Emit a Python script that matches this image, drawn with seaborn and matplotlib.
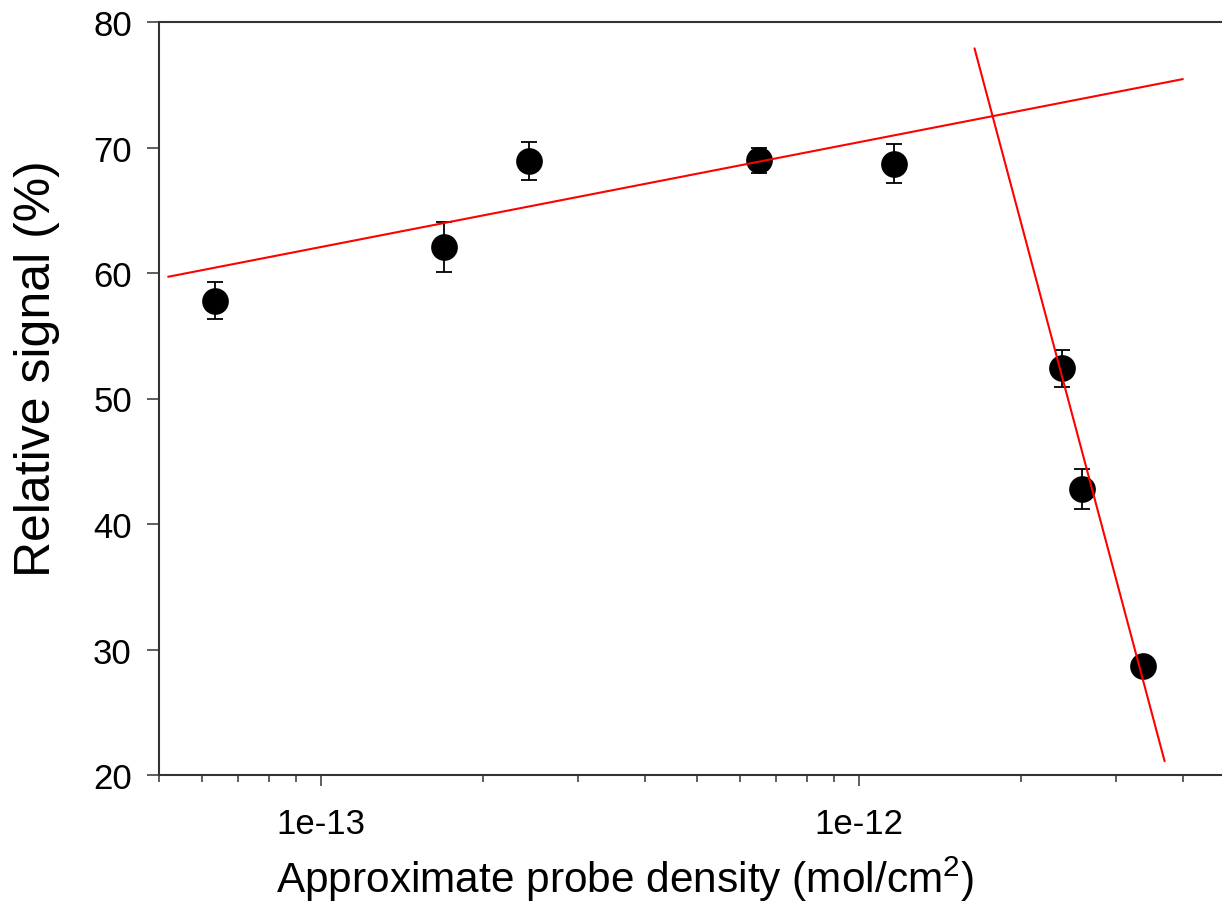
import matplotlib
matplotlib.use("Agg")
import matplotlib.pyplot as plt
import matplotlib.ticker as mticker
import seaborn as sns
import numpy as np
import pandas as pd

# data
density = [6.35e-14, 1.69e-13, 2.44e-13, 6.52e-13, 1.16e-12, 2.38e-12, 2.60e-12, 3.38e-12]
signal = [57.8, 62.1, 68.9, 69.0, 68.7, 52.4, 42.8, 28.7]
sig_err = [1.5, 2.0, 1.5, 1.0, 1.55, 1.5, 1.6, 0.3]

fit1_x = [5.2e-14, 4.0e-12]
fit1_y = [59.7, 75.45]
fit2_x = [1.64e-12, 3.70e-12]
fit2_y = [77.9, 21.1]

xticks_major = [1e-13, 1e-12]
xtick_labels = ["1e-13", "1e-12"]
yticks = [20, 30, 40, 50, 60, 70, 80]

sns.set_style("ticks")
plt.rcParams['font.family'] = ['Liberation Sans', 'DejaVu Sans']
plt.rcParams['mathtext.fontset'] = 'custom'
plt.rcParams['mathtext.rm'] = 'Liberation Sans'
plt.rcParams['mathtext.it'] = 'Liberation Sans:italic'
plt.rcParams['mathtext.bf'] = 'Liberation Sans:bold'

fig = plt.figure(figsize=(12.22, 9.03), dpi=100)
ax = fig.add_axes([159/1222, 1 - 776/903, 1 - 159/1222, (776 - 23)/903])

df = pd.DataFrame({"density": density, "signal": signal, "err": sig_err})

ax.errorbar(df["density"], df["signal"], yerr=df["err"], fmt="none",
            ecolor="black", elinewidth=1.3, capsize=5.5, capthick=1.3, zorder=2)
sns.scatterplot(data=df, x="density", y="signal", ax=ax, color="black",
                s=370, marker="o", edgecolor="black", linewidth=0, zorder=3)

sns.lineplot(x=fit1_x, y=fit1_y, ax=ax, color="red", linewidth=1.5, zorder=4)
sns.lineplot(x=fit2_x, y=fit2_y, ax=ax, color="red", linewidth=1.5, zorder=4)

ax.set_xscale("log")
ax.set_xlim(5e-14, 4.73e-12)
ax.set_ylim(20, 80)
ax.set_yticks(yticks)
ax.xaxis.set_major_locator(mticker.FixedLocator(xticks_major))
ax.xaxis.set_major_formatter(mticker.FixedFormatter(xtick_labels))
ax.xaxis.set_minor_locator(mticker.LogLocator(base=10, subs=np.arange(2, 10)))
ax.xaxis.set_minor_formatter(mticker.NullFormatter())

for side in ["left", "bottom", "top"]:
    ax.spines[side].set_color("#333333")
    ax.spines[side].set_linewidth(1.5)
ax.spines["right"].set_visible(False)

ax.tick_params(axis="y", direction="out", length=8.5, width=1.1, color="#333333",
               labelsize=25, pad=11, labelcolor="black")
ax.tick_params(axis="x", which="major", direction="out", length=8, width=1.1,
               color="#333333", labelsize=25, pad=15, labelcolor="black")
ax.tick_params(axis="x", which="minor", direction="out", length=5, width=1.1,
               color="#333333")
ax.tick_params(top=False, right=False, which="both")

ax.set_xlabel(r"Approximate probe density (mol/cm$^{2}$)", fontsize=30.5, color="black")
ax.set_ylabel("Relative signal (%)", fontsize=36, color="black")
ax.xaxis.set_label_coords((625 - 159) / 1063, -(855 - 776) / 753)
ax.yaxis.set_label_coords(-(159 - 60) / 1063, (776 - 369) / 753)
ax.grid(False)

fig.savefig("out.png", dpi=100)
